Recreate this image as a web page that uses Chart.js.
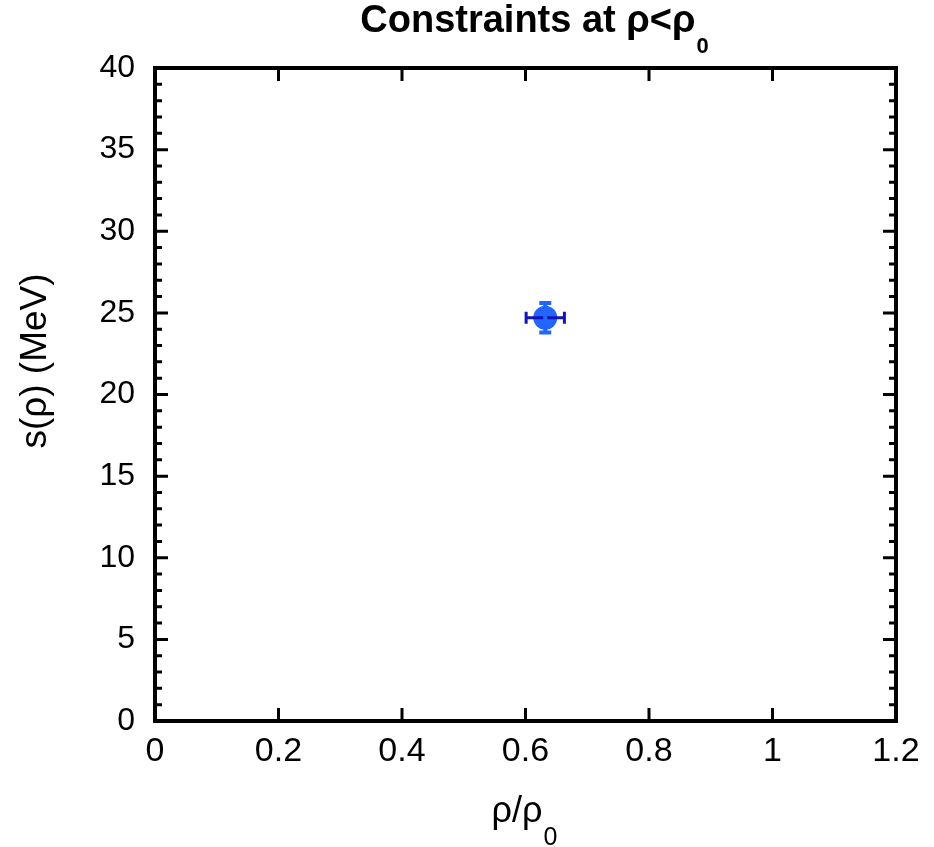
<!DOCTYPE html>
<html>
<head>
<meta charset="utf-8">
<script src="https://cdn.jsdelivr.net/npm/chart.js@4/dist/chart.umd.min.js"></script>
<style>
  body { margin: 0; background: #fff; }
  canvas { display: block; }
</style>
</head>
<body>
<canvas id="grafico" width="934" height="847"></canvas>
<script>
// dados
const densidade = [0.632];      // rho/rho0
const simetria = [24.7];        // s(rho) em MeV
const erroX = [0.031];
const erroY = [0.9];

const xTicks = [0, 0.2, 0.4, 0.6, 0.8, 1, 1.2];
const yTicks = [0, 5, 10, 15, 20, 25, 30, 35, 40];
const yMinorStep = 1;

const fonte = "'Liberation Sans', Arial, sans-serif";

// barras de erro
const barrasDeErro = {
  id: 'barrasDeErro',
  afterDatasetsDraw(chart) {
    const ctx = chart.ctx;
    const sx = chart.scales.x, sy = chart.scales.y;
    ctx.save();
    for (let i = 0; i < densidade.length; i++) {
      const cx = sx.getPixelForValue(densidade[i]);
      const cy = sy.getPixelForValue(simetria[i]);
      const x1 = sx.getPixelForValue(densidade[i] - erroX[i]);
      const x2 = sx.getPixelForValue(densidade[i] + erroX[i]);
      const y1 = sy.getPixelForValue(simetria[i] + erroY[i]);
      const y2 = sy.getPixelForValue(simetria[i] - erroY[i]);
      // horizontal
      ctx.strokeStyle = '#1414b4';
      ctx.lineWidth = 3;
      ctx.beginPath();
      ctx.moveTo(x1, cy); ctx.lineTo(x2, cy);
      ctx.moveTo(x1, cy - 6); ctx.lineTo(x1, cy + 6);
      ctx.moveTo(x2, cy - 6); ctx.lineTo(x2, cy + 6);
      ctx.stroke();
      // vertical
      ctx.strokeStyle = '#2266ff';
      ctx.lineWidth = 4;
      ctx.beginPath();
      ctx.moveTo(cx, y1); ctx.lineTo(cx, y2);
      ctx.moveTo(cx - 6, y1); ctx.lineTo(cx + 6, y1);
      ctx.moveTo(cx - 6, y2); ctx.lineTo(cx + 6, y2);
      ctx.stroke();
    }
    ctx.restore();
  }
};

// moldura, ticks para dentro e titulos com subscrito
const moldura = {
  id: 'moldura',
  afterDraw(chart) {
    const ctx = chart.ctx;
    const a = chart.chartArea;
    const sx = chart.scales.x, sy = chart.scales.y;
    ctx.save();
    ctx.strokeStyle = '#000';
    ctx.lineWidth = 3;
    ctx.beginPath();
    for (const v of xTicks) {
      const p = sx.getPixelForValue(v);
      ctx.moveTo(p, a.bottom); ctx.lineTo(p, a.bottom - 13);
      ctx.moveTo(p, a.top); ctx.lineTo(p, a.top + 13);
    }
    for (let v = 0; v <= 40; v += yMinorStep) {
      const p = sy.getPixelForValue(v);
      const len = (v % 5 === 0) ? 13 : 7;
      ctx.moveTo(a.left, p); ctx.lineTo(a.left + len, p);
      ctx.moveTo(a.right, p); ctx.lineTo(a.right - len, p);
    }
    ctx.stroke();
    ctx.lineWidth = 4;
    ctx.strokeRect(a.left, a.top, a.right - a.left, a.bottom - a.top);

    ctx.fillStyle = '#000';
    ctx.textBaseline = 'alphabetic';
    ctx.textAlign = 'left';

    // titulo
    const t1 = 'Constraints at ρ<ρ', t2 = '0';
    ctx.font = 'bold 38px ' + fonte;
    const w1 = ctx.measureText(t1).width;
    ctx.font = 'bold 22px ' + fonte;
    const w2 = ctx.measureText(t2).width;
    let x0 = 534 - (w1 + w2) / 2;
    ctx.font = 'bold 38px ' + fonte;
    ctx.fillText(t1, x0, 32);
    ctx.font = 'bold 22px ' + fonte;
    ctx.fillText(t2, x0 + w1 + 1, 53);

    // titulo eixo x
    const e1 = 'ρ/ρ', e2 = '0';
    ctx.font = '36px ' + fonte;
    const we1 = ctx.measureText(e1).width;
    ctx.font = '25px ' + fonte;
    const we2 = ctx.measureText(e2).width;
    x0 = 524 - (we1 + we2) / 2;
    ctx.font = '36px ' + fonte;
    ctx.fillText(e1, x0, 822);
    ctx.font = '25px ' + fonte;
    ctx.fillText(e2, x0 + we1 + 1, 845);

    // titulo eixo y
    ctx.translate(36, 361);
    ctx.rotate(-Math.PI / 2);
    ctx.textAlign = 'center';
    ctx.textBaseline = 'middle';
    ctx.font = '37px ' + fonte;
    ctx.fillText('s(ρ) (MeV)', 0, 0);
    ctx.restore();
  }
};

new Chart(document.getElementById('grafico'), {
  type: 'scatter',
  data: {
    datasets: [{
      label: 's(rho)',
      data: densidade.map((x, i) => ({ x: x, y: simetria[i] })),
      backgroundColor: '#2266ff',
      borderWidth: 0,
      pointRadius: 12,
      pointHoverRadius: 12
    }]
  },
  options: {
    responsive: false,
    animation: false,
    devicePixelRatio: 1,
    layout: { padding: { top: 68, right: 38, left: 0, bottom: 0 } },
    plugins: {
      legend: { display: false },
      title: { display: false },
      tooltip: { enabled: false }
    },
    scales: {
      x: {
        type: 'linear',
        min: 0,
        max: 1.2,
        afterBuildTicks: s => { s.ticks = xTicks.map(v => ({ value: v })); },
        afterFit: s => { s.height = 126; },
        grid: { display: false, drawTicks: false },
        border: { display: false },
        ticks: {
          color: '#000',
          padding: 10,
          maxRotation: 0,
          font: { family: fonte, size: 34 },
          callback: v => String(Number(v.toFixed(1)))
        }
      },
      y: {
        min: 0,
        max: 40,
        afterBuildTicks: s => { s.ticks = yTicks.map(v => ({ value: v })); },
        afterFit: s => { s.width = 155; },
        grid: { display: false, drawTicks: false },
        border: { display: false },
        ticks: {
          color: '#000',
          padding: 20,
          font: { family: fonte, size: 32 },
          callback: v => String(v)
        }
      }
    }
  },
  plugins: [barrasDeErro, moldura]
});
</script>
</body>
</html>
